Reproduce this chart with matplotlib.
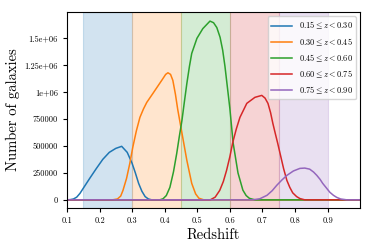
import matplotlib
matplotlib.use('Agg')
import matplotlib.pyplot as plt
import numpy as np

# redshift bins
bin_edges = [0.15, 0.30, 0.45, 0.60, 0.75, 0.90]
bin_labels = [r'$0.15 \leq z < 0.30$', r'$0.30 \leq z < 0.45$', r'$0.45 \leq z < 0.60$',
              r'$0.60 \leq z < 0.75$', r'$0.75 \leq z < 0.90$']

# number of galaxies per bin
z_b1 = [0.10, 0.11, 0.12, 0.13, 0.14, 0.15, 0.17, 0.19, 0.21, 0.23, 0.25, 0.268, 0.285, 0.30, 0.31, 0.32, 0.33, 0.34, 0.35, 0.36, 1.0]
n_b1 = [0, 2000, 8000, 25000, 60000, 107000, 200000, 290000, 376000, 441000, 478000, 497000, 441000, 339000, 250000, 153000, 80000, 30000, 8000, 0, 0]

z_b2 = [0.10, 0.24, 0.255, 0.265, 0.272, 0.283, 0.293, 0.302, 0.313, 0.324, 0.335, 0.345, 0.364, 0.391, 0.403, 0.41, 0.418, 0.425, 0.433, 0.44, 0.453, 0.468, 0.483, 0.495, 0.505, 0.52, 1.0]
n_b2 = [0, 0, 8000, 35000, 88000, 200000, 339000, 487000, 640000, 766000, 845000, 905000, 989000, 1110000, 1165000, 1180000, 1165000, 1110000, 980000, 840000, 620000, 367000, 153000, 55000, 15000, 0, 0]

z_b3 = [0.10, 0.385, 0.395, 0.405, 0.416, 0.427, 0.437, 0.445, 0.453, 0.46, 0.468, 0.476, 0.483, 0.499, 0.517, 0.539, 0.55, 0.56, 0.57, 0.578, 0.585, 0.59, 0.60, 0.61, 0.625, 0.64, 0.65, 0.66, 0.677, 1.0]
n_b3 = [0, 0, 10000, 40000, 116000, 260000, 432000, 590000, 738000, 900000, 1080000, 1240000, 1360000, 1500000, 1590000, 1660000, 1645000, 1600000, 1510000, 1390000, 1240000, 1110000, 850000, 530000, 250000, 90000, 40000, 14000, 0, 0]

z_b4 = [0.10, 0.54, 0.555, 0.569, 0.58, 0.59, 0.60, 0.609, 0.62, 0.631, 0.652, 0.677, 0.698, 0.708, 0.717, 0.725, 0.732, 0.74, 0.747, 0.755, 0.765, 0.775, 0.784, 0.793, 0.805, 0.815, 0.83, 1.0]
n_b4 = [0, 0, 25000, 88000, 170000, 274000, 400000, 534000, 660000, 766000, 896000, 952000, 970000, 945000, 896000, 810000, 710000, 610000, 524000, 420000, 290000, 181000, 116000, 65000, 30000, 12000, 0, 0]

z_b5 = [0.10, 0.67, 0.692, 0.714, 0.73, 0.744, 0.76, 0.775, 0.795, 0.815, 0.83, 0.845, 0.857, 0.867, 0.877, 0.885, 0.897, 0.907, 0.918, 0.928, 0.94, 0.959, 1.0]
n_b5 = [0, 0, 10000, 42000, 85000, 135000, 185000, 227000, 268000, 292000, 295000, 285000, 258000, 227000, 190000, 153000, 108000, 70000, 42000, 23000, 8000, 0, 0]

series = [(z_b1, n_b1), (z_b2, n_b2), (z_b3, n_b3), (z_b4, n_b4), (z_b5, n_b5)]

yticks = [0, 250000, 500000, 750000, 1000000, 1250000, 1500000]
ytick_labels = ['0', '250000', '500000', '750000', '1e+06', '1.25e+06', '1.5e+06']
xticks = [0.1, 0.2, 0.3, 0.4, 0.5, 0.6, 0.7, 0.8, 0.9]

plt.rcParams['font.family'] = 'serif'
plt.rcParams['font.serif'] = ['cmr10']
plt.rcParams['mathtext.fontset'] = 'cm'
plt.rcParams['axes.formatter.use_mathtext'] = True

fig = plt.figure(figsize=(3.74, 2.49), dpi=100)
ax = fig.add_axes([0.179, 0.165, 0.784, 0.787])

colors = ['C0', 'C1', 'C2', 'C3', 'C4']
for i in range(5):
    ax.axvspan(bin_edges[i], bin_edges[i + 1], color=colors[i], alpha=0.2, lw=0.8)

for i, (z, n) in enumerate(series):
    ax.plot(z, n, color=colors[i], lw=1.1, label=bin_labels[i])

ax.set_xlim(0.1, 1.0)
ax.set_ylim(-75000, 1745000)
ax.set_xticks(xticks)
ax.set_xticklabels([f'{x:.1f}' for x in xticks])
ax.set_yticks(yticks)
ax.set_yticklabels(ytick_labels)
ax.tick_params(labelsize=6, length=3, width=0.8)

ax.set_xlabel('Redshift', fontsize=10.5, labelpad=2)
ax.set_ylabel('Number of galaxies', fontsize=10.5, labelpad=3)

ax.legend(loc='upper right', fontsize=6, handlelength=2.5)

fig.savefig('out.png', dpi=100)
